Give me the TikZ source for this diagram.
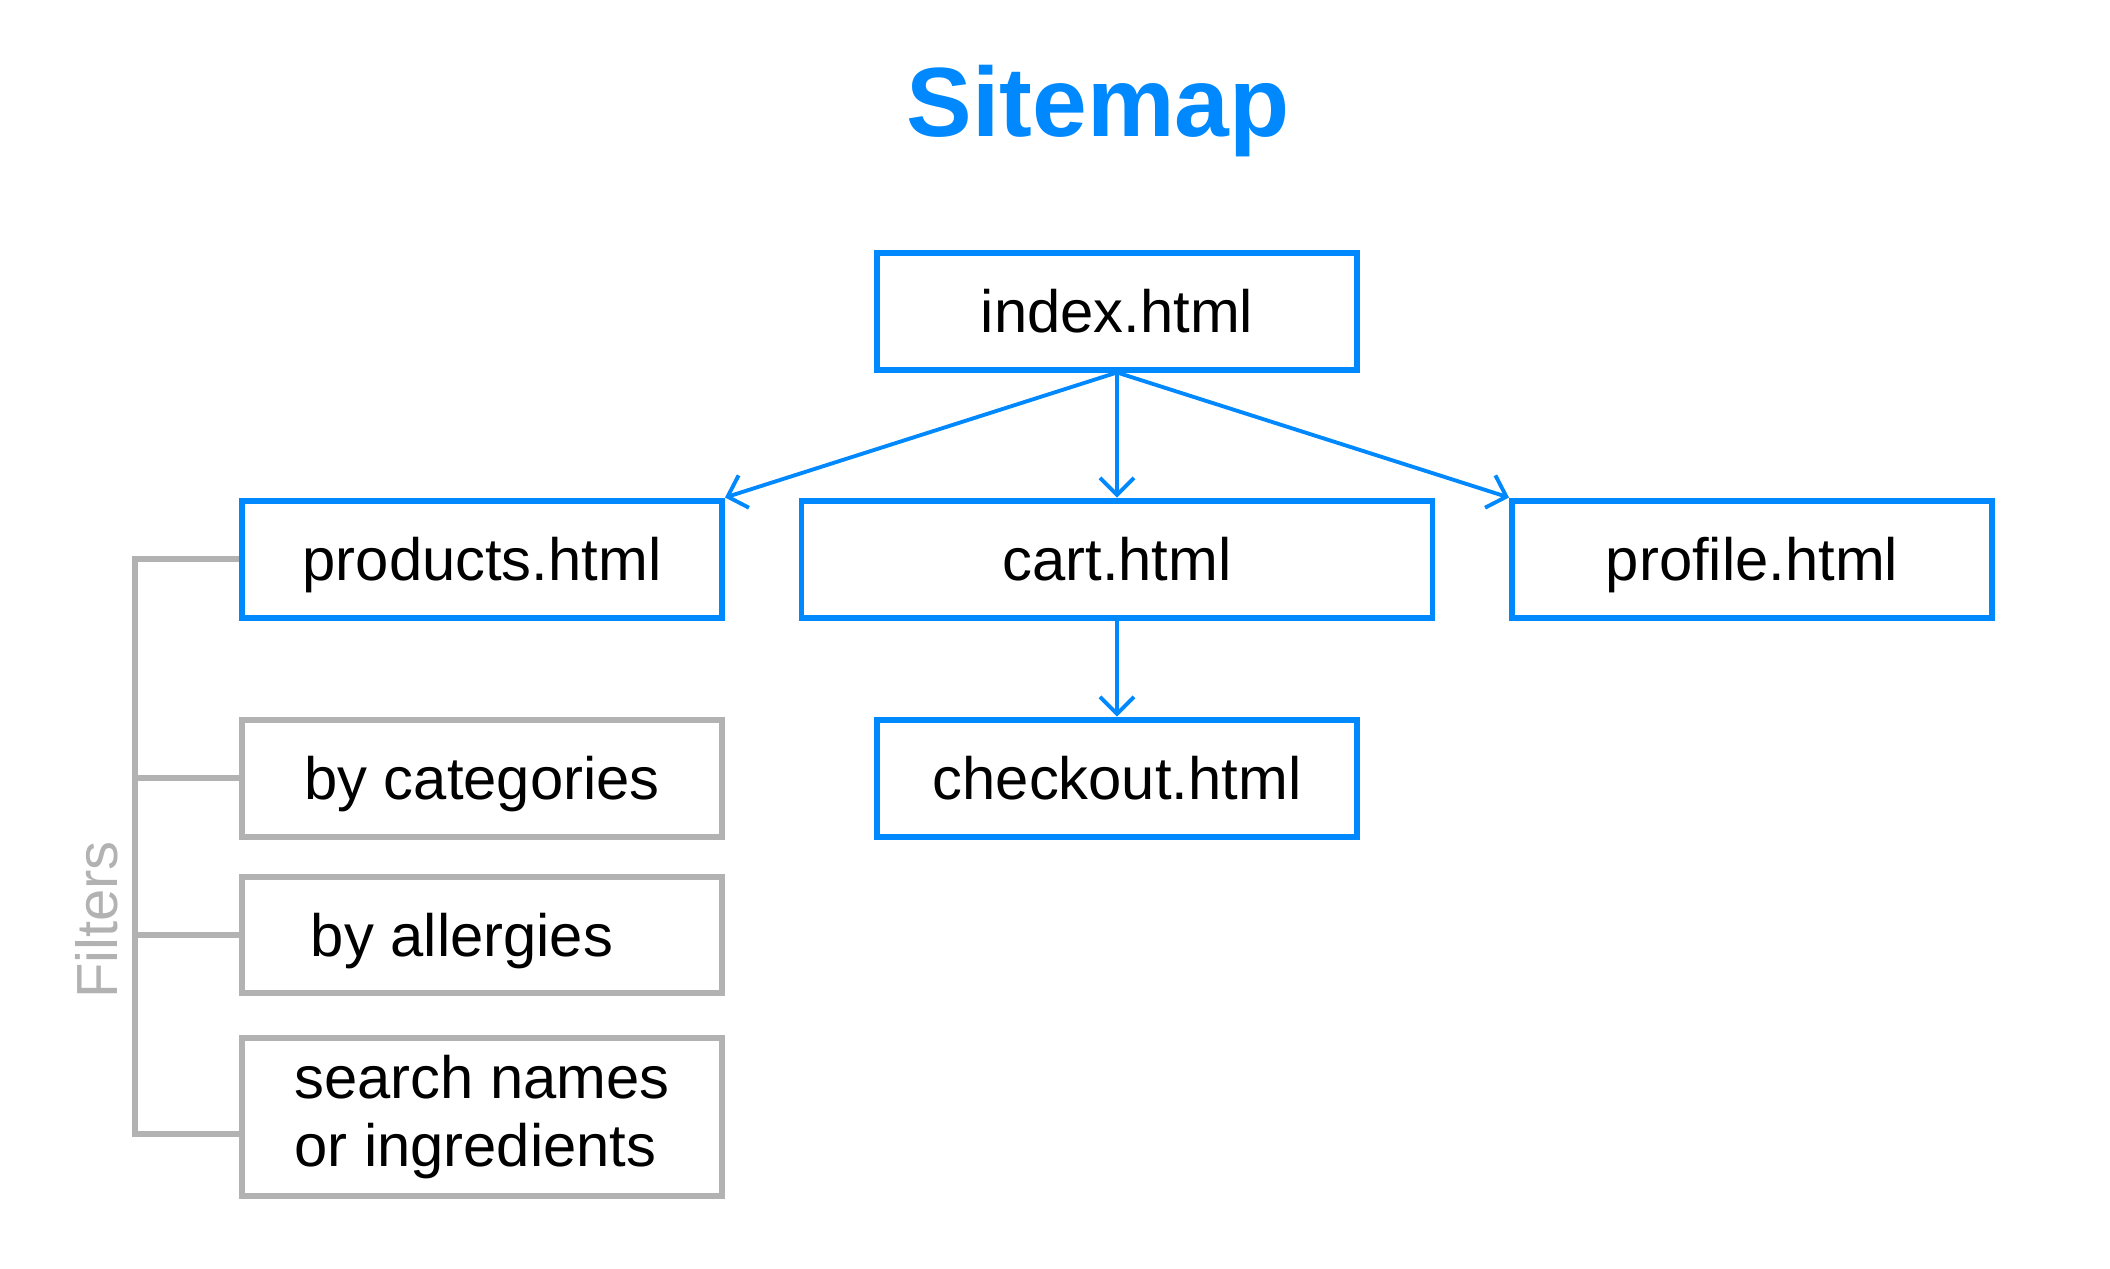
\documentclass[tikz,border=0pt]{standalone}
\usepackage{fontspec}
\setmainfont{Liberation Sans}
\usetikzlibrary{arrows.meta}
\definecolor{siteblue}{RGB}{0,136,255}
\definecolor{filtergray}{RGB}{178,178,178}

\begin{document}
\begin{tikzpicture}[x=0.1mm, y=-0.1mm,
                    box/.style={line width=1.7pt, minimum width=48mm, minimum height=11.7mm, inner sep=0pt, font=\fontsize{17}{19.3}\selectfont},
                    page/.style={box, draw=siteblue, text height=4.3mm, text depth=0pt},
                    filter/.style={page, draw=filtergray},
                    link/.style={draw=siteblue, line width=1.1pt, -{Straight Barb[length=1.7mm,width=3.4mm]}},
                    branch/.style={draw=filtergray, line width=1.7pt}
]
\useasboundingbox (0,0) rectangle (2110,1268);

\node [anchor=base, text=siteblue, font=\fontsize{28}{32}\selectfont\bfseries] at (1098,136) (title) {Sitemap};

\node [page] at (1117,311) (index) {index.html};
\node [page] at (482,559) (products) {products.html};
\node [page, minimum width=63.1mm] at (1117,559) (cart) {cart.html};
\node [page] at (1752,559) (profile) {profile.html};
\node [page] at (1117,778) (checkout) {checkout.html};
%
\node [filter] at (482,778) (cats) {by categories};
\node [filter, minimum height=11.6mm] at (482,935) (allergies) {by allergies\hspace*{4mm}};
\node [box, draw=filtergray, minimum height=15.8mm, align=left] at (482,1117) (search) {search names\\or ingredients};
\node [rotate=90, text=filtergray, font=\fontsize{16.5}{19}\selectfont] at (97,920) (filters) {Filters};
\coordinate (spine) at (135,0);

\draw [link] (index.south) -- (products.north east);
\draw [link] (index.south) -- (cart.north);
\draw [link] (index.south) -- (profile.north west);
\draw [link] (cart.south) -- (checkout.north);

\draw [branch] (products.west) -- (products.west -| spine) |- ([yshift=-1.7mm]search.west);
\draw [branch] (cats.west) -- (cats.west -| spine);
\draw [branch] (allergies.west) -- (allergies.west -| spine);
\end{tikzpicture}
\end{document}
